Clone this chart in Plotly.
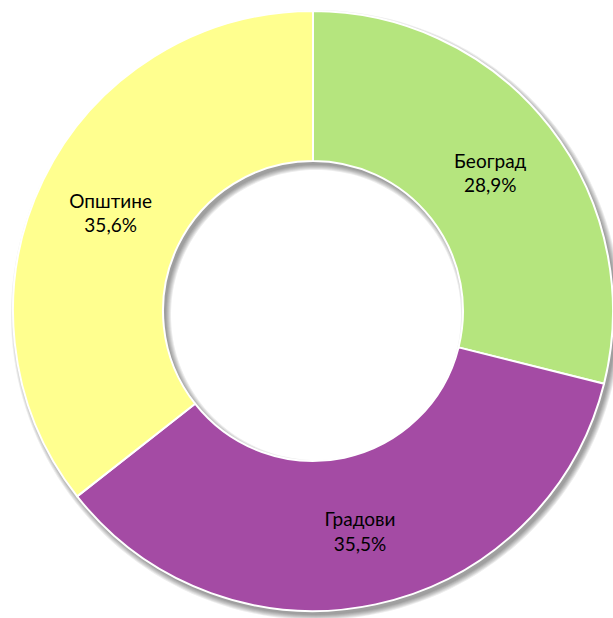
import math
import plotly.graph_objects as go

# Share of the total by group
categories = ["Београд", "Градови", "Општине"]
values = [28.9, 35.5, 35.6]
value_labels = ["28,9%", "35,5%", "35,6%"]
colors = ["#B5E57E", "#A44BA4", "#FFFF8F"]

W, H = 613, 618
cx, cy = 313.0, 311.0      # ring centre in px (from top-left)
R_OUT = 300.0
HOLE = 0.5


def ring_path(r_out, r_in, n=180):
    """Closed annulus path in pixel units, centred on the shape anchor."""
    pts_o = [(r_out * math.cos(2 * math.pi * i / n), r_out * math.sin(2 * math.pi * i / n)) for i in range(n)]
    pts_i = [(r_in * math.cos(-2 * math.pi * i / n), r_in * math.sin(-2 * math.pi * i / n)) for i in range(n)]
    p = "M" + " L".join(f"{x:.2f},{y:.2f}" for x, y in pts_o) + " Z "
    p += "M" + " L".join(f"{x:.2f},{y:.2f}" for x, y in pts_i) + " Z"
    return p


# soft drop shadow under the ring (offset down-right)
shapes = []
dx, dy = 3, 4
for k in range(6):
    shapes.append(dict(
        type="path",
        xref="paper", yref="paper",
        xsizemode="pixel", ysizemode="pixel",
        xanchor=(cx + dx) / W, yanchor=1 - (cy + dy) / H,
        path=ring_path(R_OUT + k, R_OUT * HOLE - k),
        fillcolor="rgba(0,0,0,0.075)",
        line=dict(width=0),
        layer="below",
    ))

fig = go.Figure()
fig.add_trace(go.Pie(
    labels=categories,
    values=values,
    customdata=value_labels,
    texttemplate="%{label}<br>%{customdata}",
    textposition="inside",
    insidetextorientation="horizontal",
    textfont=dict(family="Lato, Open Sans, sans-serif", size=19, color="black"),
    marker=dict(colors=colors, line=dict(color="white", width=2)),
    hole=HOLE,
    sort=False,
    direction="clockwise",
    rotation=0,
    domain=dict(x=[max(0, (cx - R_OUT) / W), min(1, (cx + R_OUT) / W)],
                y=[max(0, 1 - (cy + R_OUT) / H), min(1, 1 - (cy - R_OUT) / H)]),
    showlegend=False,
    hoverinfo="label+value",
))

fig.update_layout(
    width=W, height=H,
    margin=dict(l=0, r=0, t=0, b=0),
    paper_bgcolor="white",
    plot_bgcolor="white",
    shapes=shapes,
    uniformtext=dict(minsize=19, mode="show"),
)

fig.write_html("out.html")
